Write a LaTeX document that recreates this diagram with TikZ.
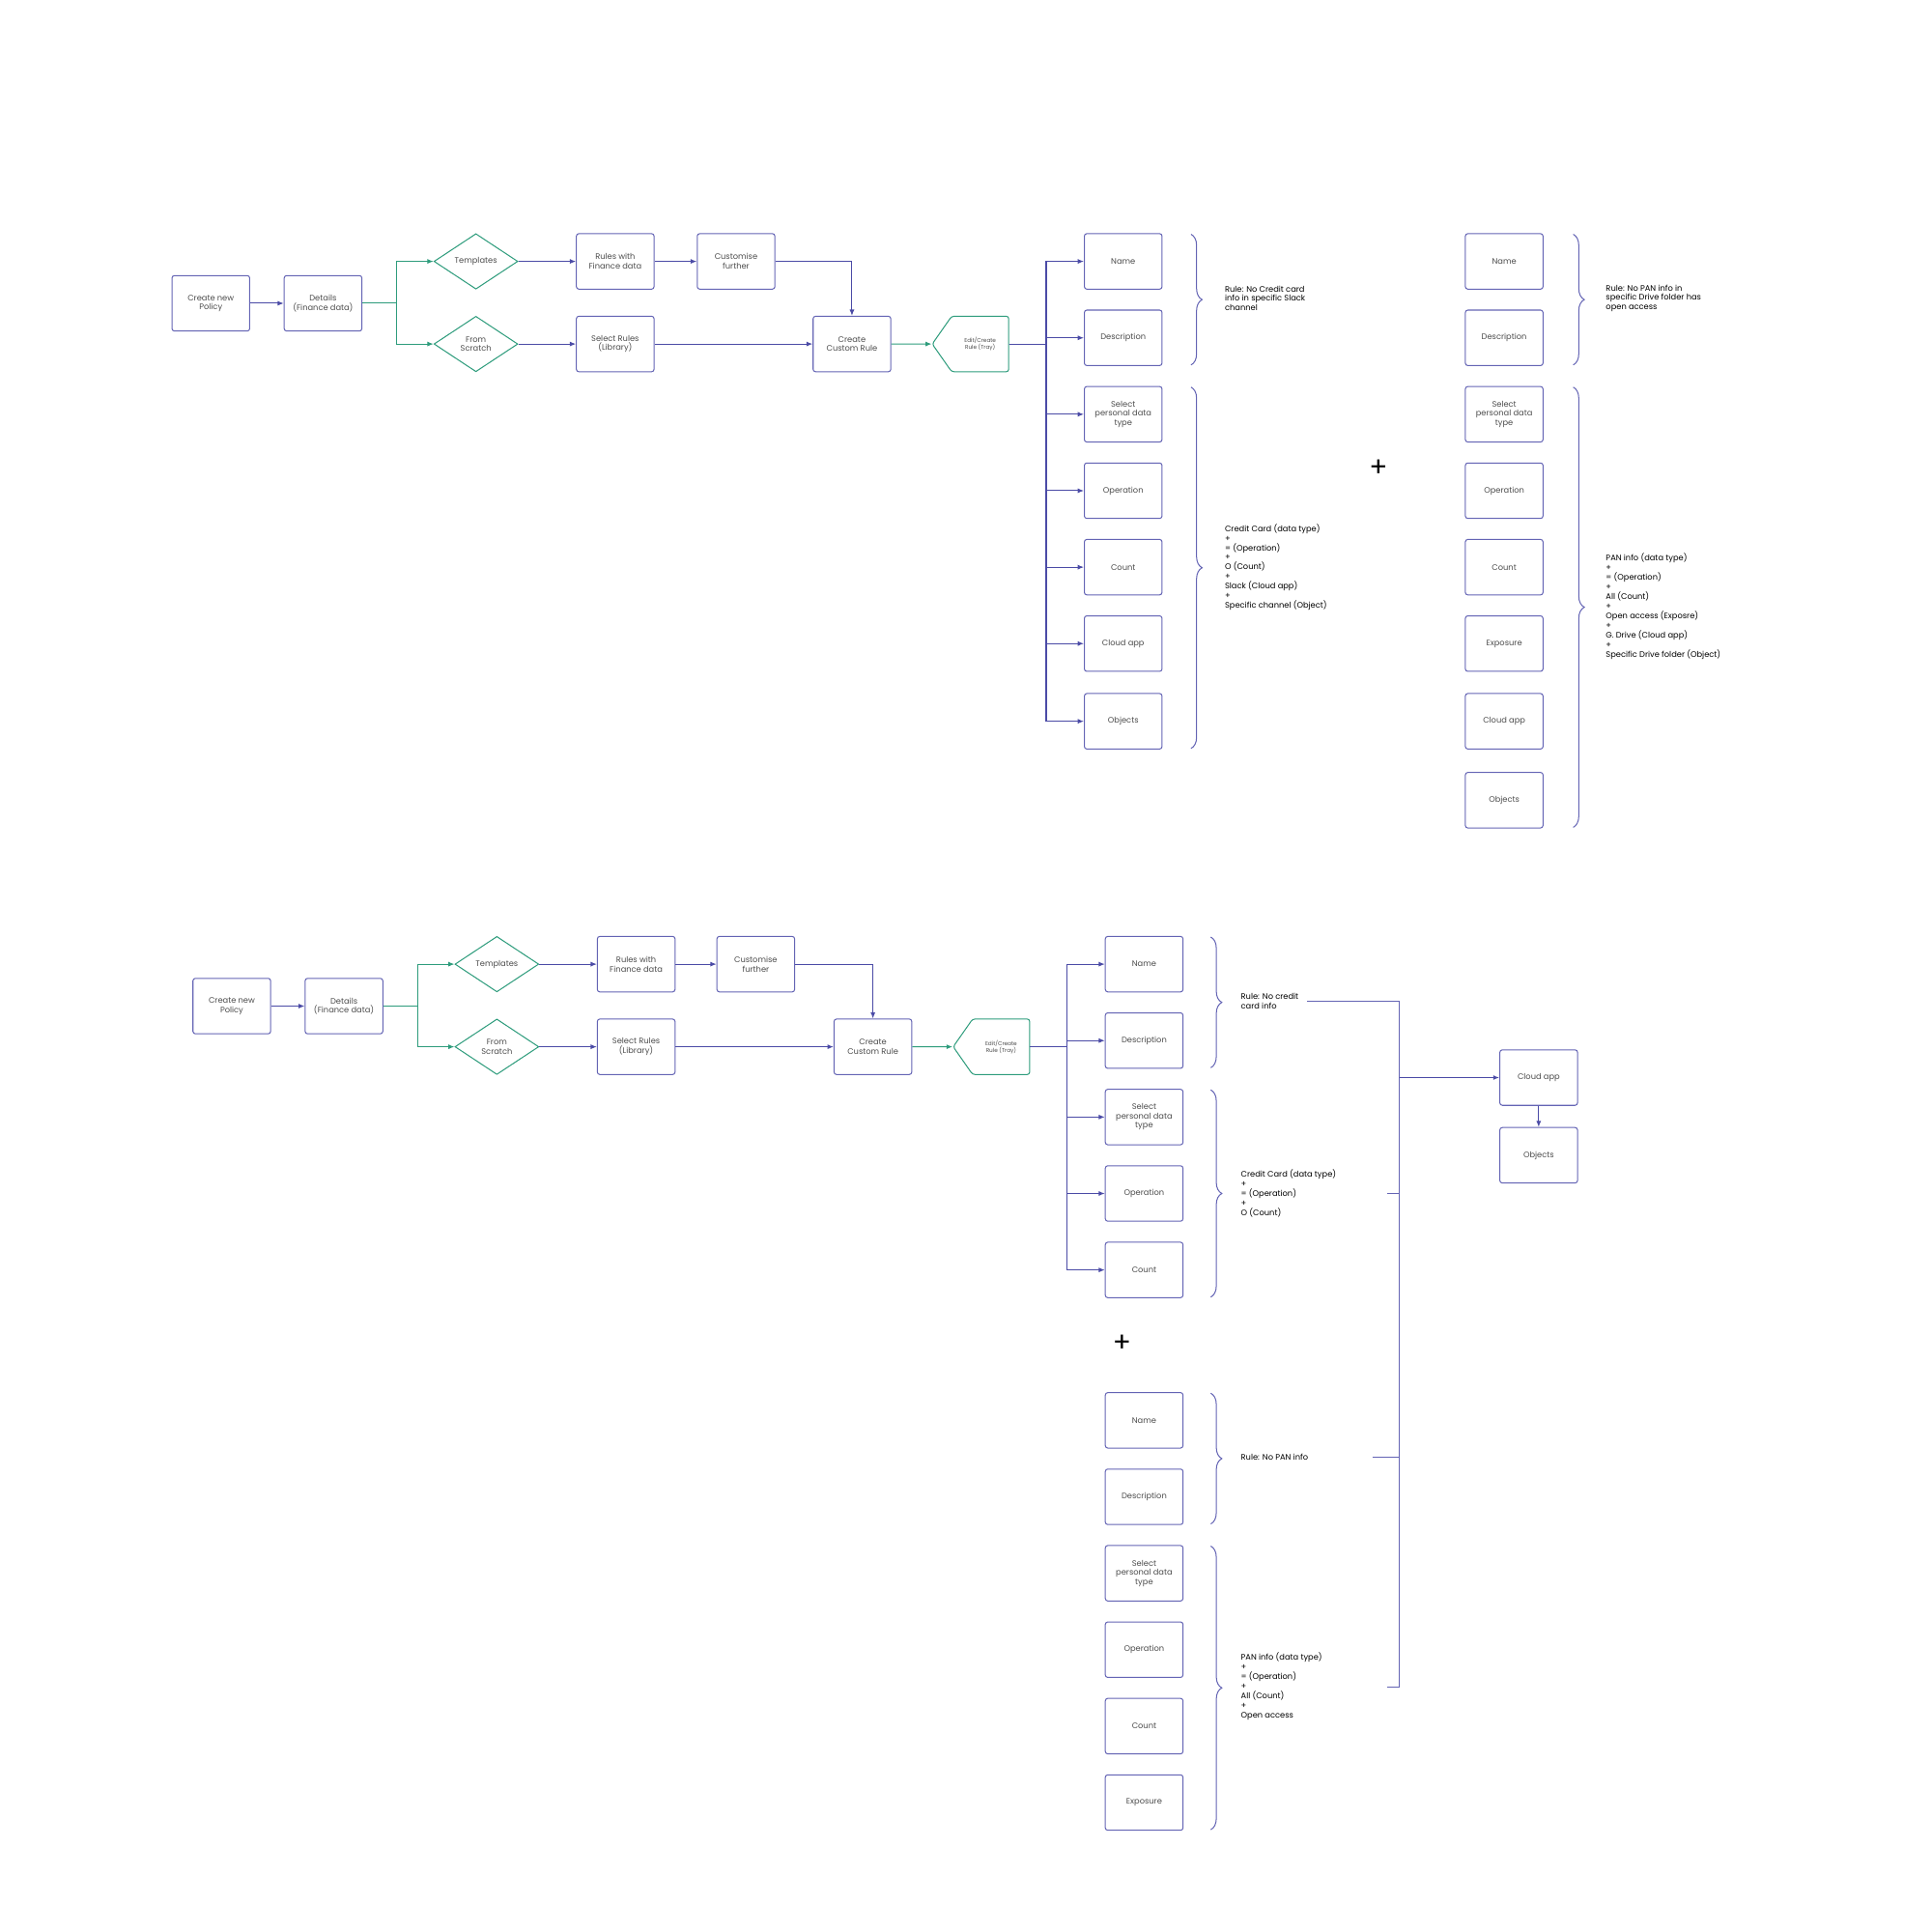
\documentclass[tikz,border=0pt]{standalone}
\usepackage{fontspec}
\setmainfont{Poppins}
\usetikzlibrary{shapes.geometric,shapes.symbols,decorations.pathreplacing,arrows.meta}
\definecolor{ink}{HTML}{4B4BA6}
\definecolor{boxline}{HTML}{6464B4}
\definecolor{teal}{HTML}{2E9C7C}
\begin{document}
\begin{tikzpicture}
[x=1pt,y=-1pt,
mybox/.style={rectangle,rounded corners=2pt,minimum width=63pt,minimum height=45pt,align=center,draw=boxline,thick,font=\fontsize{6.5}{7.5}\selectfont,text=black!70},
dia/.style={diamond,aspect=1.5,minimum width=68pt,minimum height=45pt,inner sep=0pt,align=center,draw=teal,thick,font=\fontsize{6.5}{7.5}\selectfont,text=black!70},
tray/.style={signal,signal to=west,signal from=nowhere,signal pointer angle=110,minimum width=62pt,minimum height=45pt,inner sep=1pt,align=center,draw=teal,thick,rounded corners=2pt,font=\fontsize{4.5}{5.5}\selectfont,text=black!70},
blu/.style={draw=ink,thick,-{Latex[length=5pt,width=4pt]}},
grn/.style={draw=teal,thick,-{Latex[length=5pt,width=4pt]}},
note/.style={anchor=west,align=left,font=\fontsize{6.5}{7.8}\selectfont},
brc/.style={draw=boxline,thick,decorate,decoration={brace,amplitude=9pt}},
]
\useasboundingbox (0,0) rectangle (1567,1567);

% first flow
\node [mybox] (pol1) at (171,246){Create new\\Policy};
\node [mybox] (det1) at (262,246){Details\\(Finance data)};
\node [dia] (tmp1) at (386,212){Templates};
\node [dia] (scr1) at (386,279){From\\Scratch};
\node [mybox] (fin1) at (499,212){Rules with\\Finance data};
\node [mybox] (cus1) at (597,212){Customise\\further};
\node [mybox] (lib1) at (499,279){Select Rules\\(Library)};
\node [mybox] (ccr1) at (691,279){Create\\Custom Rule};
\node [tray] (edt1) at (795,279){Edit/Create\\Rule (Tray)};
\draw[blu] (pol1) -- (det1);
\draw[grn] (det1.east) -- ++(28,0) |- (tmp1.west);
\draw[grn] (det1.east) -- ++(28,0) |- (scr1.west);
\draw[blu] (tmp1) -- (fin1);
\draw[blu] (fin1) -- (cus1);
\draw[blu] (cus1.east) -| (ccr1.north);
\draw[blu] (scr1) -- (lib1);
\draw[blu] (lib1) -- (ccr1);
\draw[grn] (ccr1) -- (edt1);
\foreach \n/\t/\y in {a/Name/212,b/Description/274,c/Select\\personal data\\type/336,d/Operation/398,e/Count/460,f/Cloud app/522,g/Objects/585}{
  \node [mybox] (c1\n) at (911,\y){\t};
  \draw[blu] (edt1.east) -- ++(30,0) |- (c1\n.west);
}
\draw[brc] (966,190) -- (966,296);
\node [note] (r1a) at (990,242){Rule: No Credit card\\info in specific Slack\\channel};
\draw[brc] (966,314) -- (966,607);
\node [note] (r1b) at (990,460){Credit Card (data type)\\+\\= (Operation)\\+\\O (Count)\\+\\Slack (Cloud app)\\+\\Specific channel (Object)};
\node [font=\fontsize{22}{22}\selectfont] (pls1) at (1118,380){+};
\foreach \n/\t/\y in {a/Name/212,b/Description/274,c/Select\\personal data\\type/336,d/Operation/398,e/Count/460,f/Exposure/522,g/Cloud app/585,h/Objects/649}{
  \node [mybox] (c2\n) at (1220,\y){\t};
}
\draw[brc] (1276,190) -- (1276,296);
\node [note] (r2a) at (1299,242){Rule: No PAN info in\\specific Drive folder has\\open access};
\draw[brc] (1276,314) -- (1276,671);
\node [note] (r2b) at (1299,492){PAN info (data type)\\+\\= (Operation)\\+\\All (Count)\\+\\Open access (Exposre)\\+\\G. Drive (Cloud app)\\+\\Specific Drive folder (Object)};

% second flow
\node [mybox] (pol2) at (188,816){Create new\\Policy};
\node [mybox] (det2) at (279,816){Details\\(Finance data)};
\node [dia] (tmp2) at (403,782){Templates};
\node [dia] (scr2) at (403,849){From\\Scratch};
\node [mybox] (fin2) at (516,782){Rules with\\Finance data};
\node [mybox] (cus2) at (613,782){Customise\\further};
\node [mybox] (lib2) at (516,849){Select Rules\\(Library)};
\node [mybox] (ccr2) at (708,849){Create\\Custom Rule};
\node [tray] (edt2) at (812,849){Edit/Create\\Rule (Tray)};
\draw[blu] (pol2) -- (det2);
\draw[grn] (det2.east) -- ++(28,0) |- (tmp2.west);
\draw[grn] (det2.east) -- ++(28,0) |- (scr2.west);
\draw[blu] (tmp2) -- (fin2);
\draw[blu] (fin2) -- (cus2);
\draw[blu] (cus2.east) -| (ccr2.north);
\draw[blu] (scr2) -- (lib2);
\draw[blu] (lib2) -- (ccr2);
\draw[grn] (ccr2) -- (edt2);
\foreach \n/\t/\y in {a/Name/782,b/Description/844,c/Select\\personal data\\type/906,d/Operation/968,e/Count/1030}{
  \node [mybox] (c3\n) at (928,\y){\t};
  \draw[blu] (edt2.east) -- ++(30,0) |- (c3\n.west);
}
\draw[brc] (982,760) -- (982,866);
\node [note] (r3a) at (1003,812){Rule: No credit\\card info};
\draw[brc] (982,884) -- (982,1052);
\node [note] (r3b) at (1003,968){Credit Card (data type)\\+\\= (Operation)\\+\\O (Count)};
\node [font=\fontsize{22}{22}\selectfont] (pls2) at (910,1090){+};
\foreach \n/\t/\y in {a/Name/1152,b/Description/1214,c/Select\\personal data\\type/1276,d/Operation/1338,e/Count/1400,f/Exposure/1462}{
  \node [mybox] (c4\n) at (928,\y){\t};
}
\draw[brc] (982,1130) -- (982,1236);
\node [note] (r4a) at (1003,1182){Rule: No PAN info};
\draw[brc] (982,1254) -- (982,1484);
\node [note] (r4b) at (1003,1368){PAN info (data type)\\+\\= (Operation)\\+\\All (Count)\\+\\Open access};

\node [mybox] (app) at (1248,874){Cloud app};
\node [mybox] (obj) at (1248,937){Objects};
\coordinate (bt) at (1135,812);
\coordinate (bb) at (1135,1368);
\draw[draw=boxline,thick] (1060,812) -- (bt) -- (bb) -- (1125,1368);
\draw[draw=boxline,thick] (1125,968) -- (1135,968);
\draw[draw=boxline,thick] (1113,1182) -- (1135,1182);
\draw[blu,very thick] (1135,874) -- (app.west);
\draw[blu] (app) -- (obj);
\end{tikzpicture}
\end{document}
